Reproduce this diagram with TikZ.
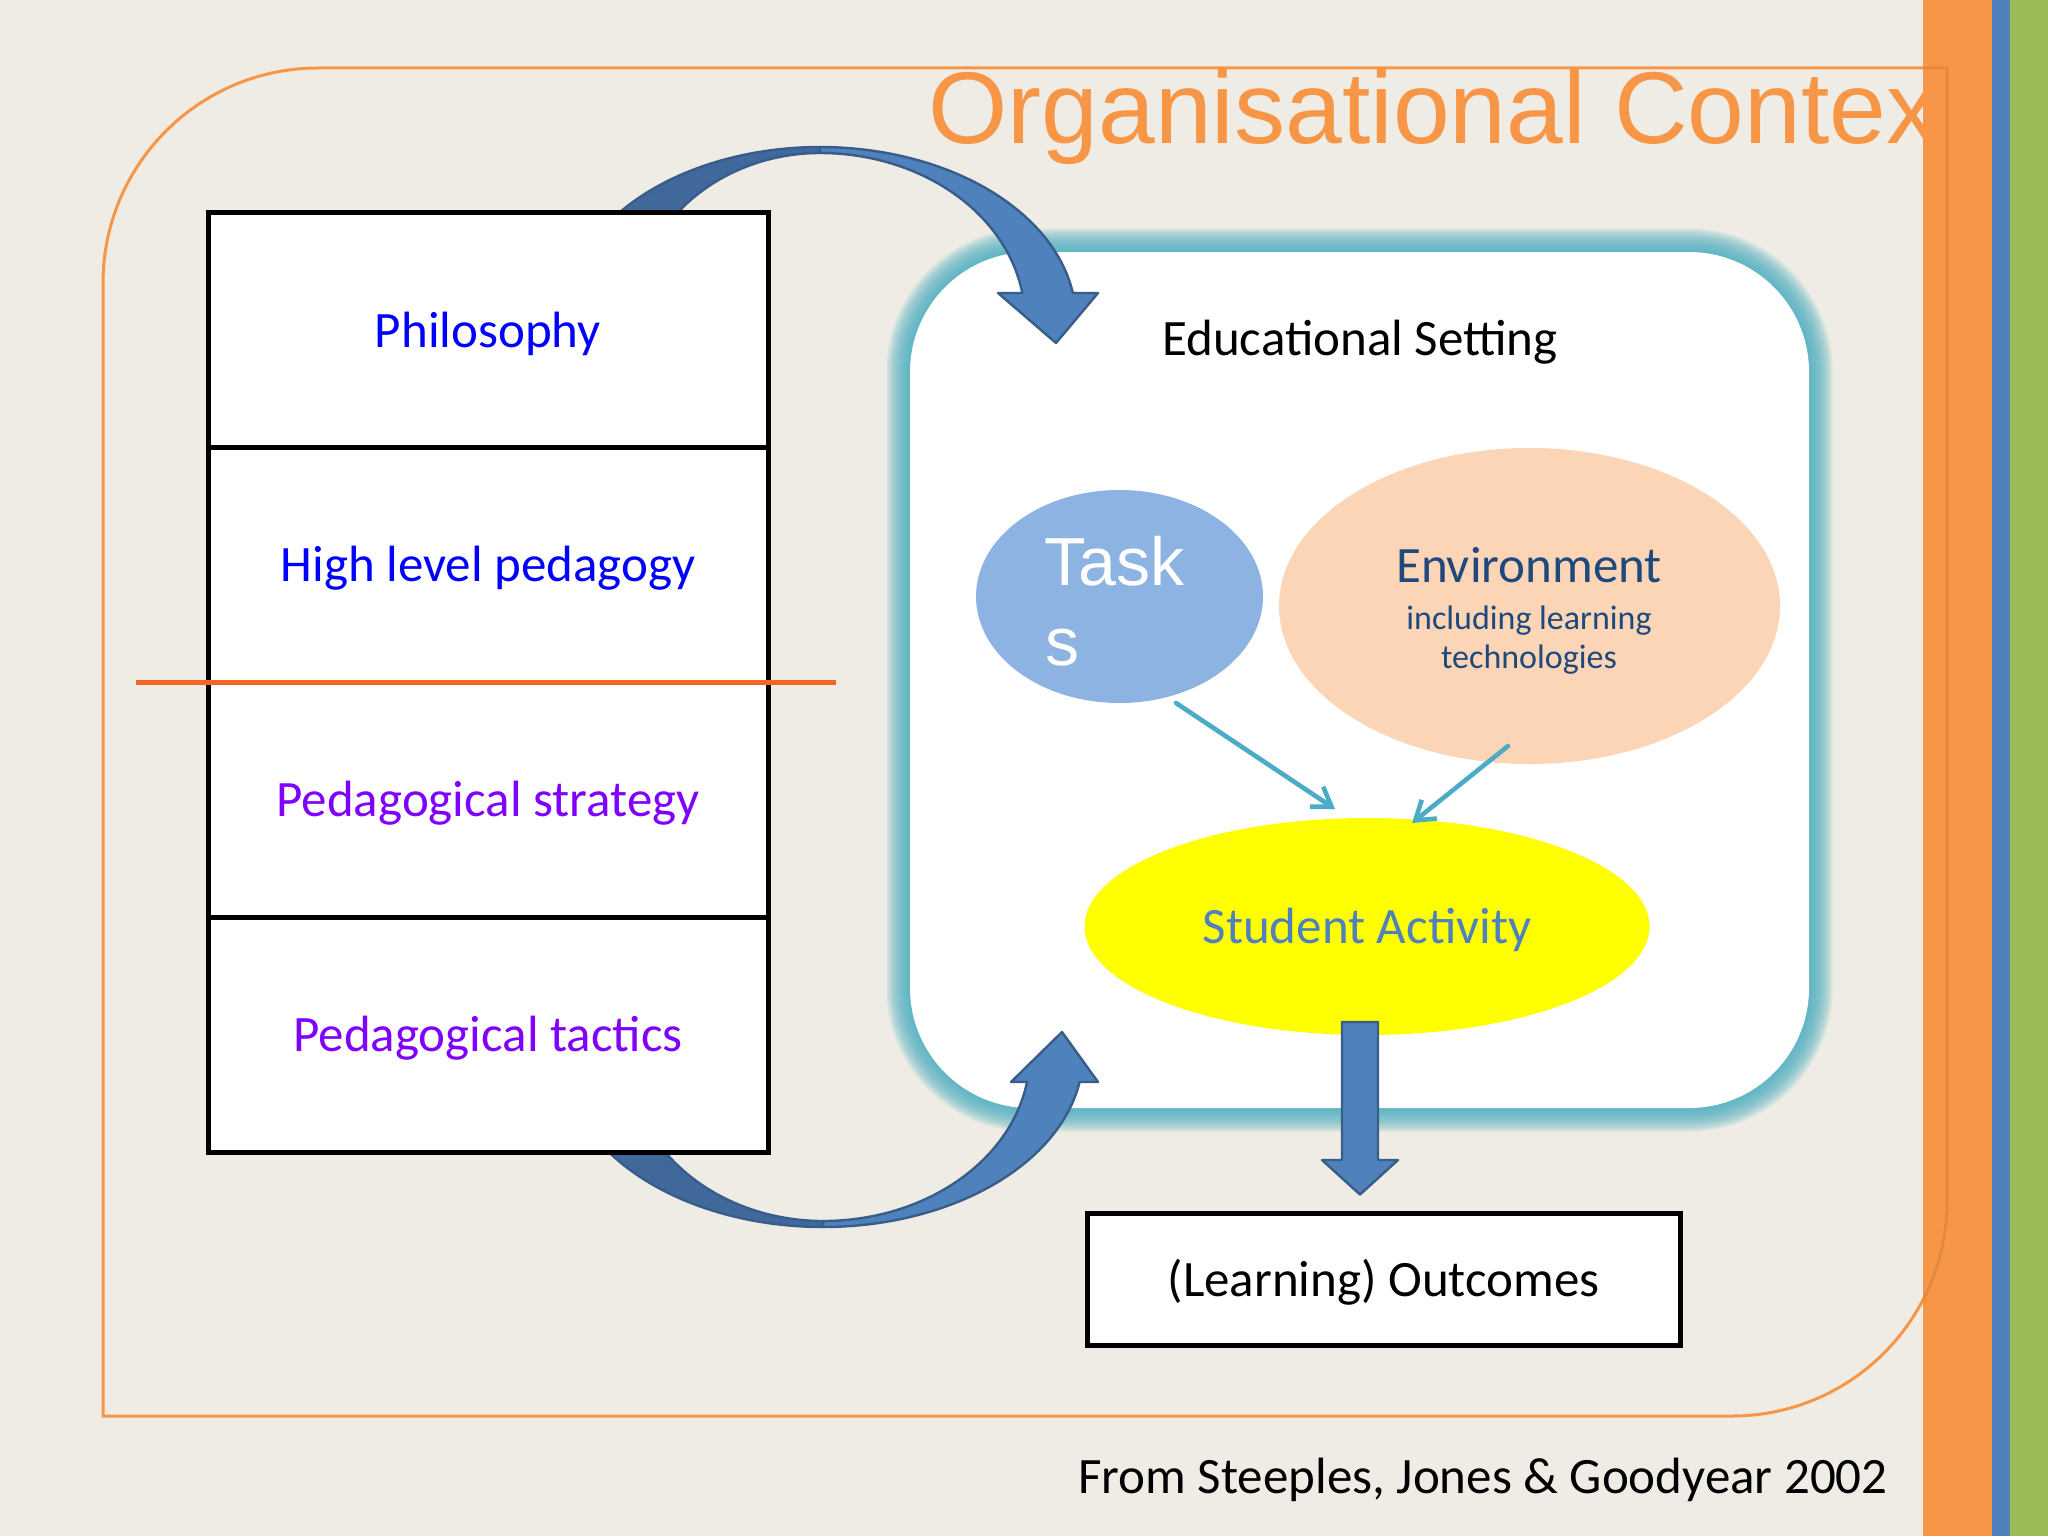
\documentclass[tikz,border=0pt]{standalone}
\usepackage{fontspec}
\setmainfont{Carlito}
\newfontfamily\arialfam{Liberation Sans}
\usetikzlibrary{calc,arrows.meta,shapes.geometric}
\definecolor{bgc}{RGB}{238,236,228}
\definecolor{orng}{HTML}{F79646}
\definecolor{stripeblue}{HTML}{4F81BD}
\definecolor{stripegreen}{HTML}{9BBB59}
\definecolor{divline}{RGB}{242,101,34}
\definecolor{glowc}{RGB}{80,178,198}
\definecolor{taskc}{HTML}{8DB3E2}
\definecolor{envc}{HTML}{FBD5B5}
\definecolor{envtext}{HTML}{1F497D}
\definecolor{studtext}{HTML}{4F81BD}
\definecolor{tealc}{HTML}{4BACC6}
\definecolor{arrfill}{HTML}{4F81BD}
\definecolor{arrback}{RGB}{64,104,155}
\definecolor{arredge}{HTML}{385D8A}
\definecolor{purp}{RGB}{128,0,255}
\definecolor{sunyellow}{RGB}{255,255,0}
\begin{document}
\begin{tikzpicture}[x=0.5pt,y=-0.5pt,
  big/.style={font=\fontsize{25.5}{30}\selectfont},
  stackbox/.style={draw=black,line width=2.5pt,fill=white,minimum width=280pt,minimum height=117.5pt,inner sep=0pt,text height=17pt,text depth=0pt,big},
  txt/.style={inner sep=0pt},
  tealarrow/.style={draw=tealc,line width=2.3pt,line cap=round,-{Straight Barb[length=9pt,width=12pt]}},
  arrowfront/.style={fill=arrfill,draw=arredge,line width=1.2pt,line join=round},
  arrowback/.style={fill=arrback,draw=arredge,line width=1.2pt,line join=round},
  framestyle/.style={draw=orng,line width=1.5pt},
]
\useasboundingbox (0,0) rectangle (2048,1536);
\fill[bgc] (0,0) rectangle (2048,1536);

% outer organisational frame
\draw[framestyle] (103,1416) -- (103,283) .. controls (103,164.3) and (199.3,68) .. (318,68) -- (1947,68) -- (1947,1201) .. controls (1947,1319.7) and (1850.7,1416) .. (1732,1416) -- cycle;

% title
\node[txt,anchor=base west,text=orng,font=\arialfam\fontsize{51}{60}\selectfont] (title) at (928,143) {Organisational Contex};

% educational setting box with soft glow
\foreach \d in {24,23,...,1}{
  \pgfmathsetmacro\rc{60+0.5*\d}
  \fill[glowc,opacity=0.075,rounded corners=\rc pt] ({910-\d},{252-\d}) rectangle ({1809+\d},{1108+\d});
}
\fill[white,rounded corners=60pt] (910,252) rectangle (1809,1108);
\node[txt,big,anchor=base] (edulabel) at (1360,355) {Educational Setting};

% ellipses
\node[ellipse,fill=taskc,minimum width=143.5pt,minimum height=106.5pt,inner sep=0pt] (tasks) at (1119.5,596.5) {};
\node[txt,anchor=base west,text=white,font=\arialfam\fontsize{34}{40}\selectfont] (tasktxt1) at (1044,585) {Task};
\node[txt,anchor=base west,text=white,font=\arialfam\fontsize{34}{40}\selectfont] (tasktxt2) at (1045,665) {s};

\node[ellipse,fill=envc,minimum width=250.5pt,minimum height=158pt,inner sep=0pt] (env) at (1529.5,606) {};
\node[txt,big,anchor=base,text=envtext] (envtxt1) at (1529,582) {Environment};
\node[txt,anchor=base,text=envtext,font=\fontsize{17}{20}\selectfont] (envtxt2) at (1529,629) {including learning};
\node[txt,anchor=base,text=envtext,font=\fontsize{17}{20}\selectfont] (envtxt3) at (1529,668) {technologies};

\node[ellipse,fill=sunyellow,minimum width=282.5pt,minimum height=108.5pt,inner sep=0pt,text height=17pt,text depth=0pt,big,text=studtext] (student) at (1367,926.5) {Student Activity};

% small connectors
\draw[tealarrow] ($(tasks.center)+(56.5,106.5)$) -- ($(student.center)+(-32,-117.5)$);
\draw[tealarrow] ($(env.center)+(-21.5,140)$) -- ($(student.center)+(45,-103.5)$);

% outcomes
\node[draw=black,line width=2.5pt,fill=white,minimum width=296.5pt,minimum height=66pt,inner sep=0pt,text height=17pt,text depth=0pt,big] (outcomes) at (1383.5,1279) {(Learning) Outcomes};

% block arrow down
\draw[arrowfront] ($(student.center)+(-25,95.5)$) -- ++(36,0) -- ++(0,138) -- ++(20,0) -- ($(outcomes.north)+(-23.5,-16)$) -- ($(student.center)+(-45,233.5)$) -- ++(20,0) -- cycle;

% curved arrow top
\filldraw[arrowback] plot[domain=90:158,samples=50,variable=\t] ({820+256*cos(\t)},{320-173*sin(\t)}) -- plot[domain=158:90,samples=50,variable=\t] ({820+186*cos(\t)},{320-167*sin(\t)}) -- cycle;
\filldraw[arrowfront] plot[domain=90:9,samples=60,variable=\t] ({820+256*cos(\t)},{320-173*sin(\t)}) -- (1098,293) -- (1056,343) -- (998,293) -- plot[domain=9.3:90,samples=60,variable=\t] ({820+205*cos(\t)},{320-167*sin(\t)}) -- cycle;

% curved arrow bottom
\filldraw[arrowback] plot[domain=90:160,samples=50,variable=\t] ({823+260*cos(\t)},{1054+173*sin(\t)}) -- plot[domain=160:90,samples=50,variable=\t] ({823+195*cos(\t)},{1054+167*sin(\t)}) -- cycle;
\filldraw[arrowfront] plot[domain=90:9.3,samples=60,variable=\t] ({823+260*cos(\t)},{1054+173*sin(\t)}) -- (1098,1082) -- (1062,1032) -- (1011,1082) -- plot[domain=9.65:90,samples=60,variable=\t] ({823+207*cos(\t)},{1054+167*sin(\t)}) -- cycle;

% stack of boxes
\node[stackbox,text=blue] (philo) at (488,330) {Philosophy};
\node[stackbox,text=blue] (high) at (488,564.5) {High level pedagogy};
\node[stackbox,text=purp] (strat) at (488,799.5) {Pedagogical strategy};
\node[stackbox,text=purp] (tact) at (488,1034.5) {Pedagogical tactics};

% orange divider
\draw[divline,line width=2.5pt] (136,682) -- (836,682);

% footer
\node[txt,big,anchor=base west] (footer) at (1078,1493) {From Steeples, Jones \& Goodyear 2002};

% right stripes
\fill[orng] (1923,0) rectangle (1992,1536);
\fill[stripeblue] (1992,0) rectangle (2010,1536);
\fill[stripegreen] (2010,0) rectangle (2048,1536);
\begin{scope}
\clip (1923,0) rectangle (1992,1536);
\draw[orng!75!black,opacity=0.3,line width=1.5pt] (1923,68) -- (1947,68) -- (1947,1201) .. controls (1947,1319.7) and (1850.7,1416) .. (1732,1416);
\end{scope}
\end{tikzpicture}
\end{document}
